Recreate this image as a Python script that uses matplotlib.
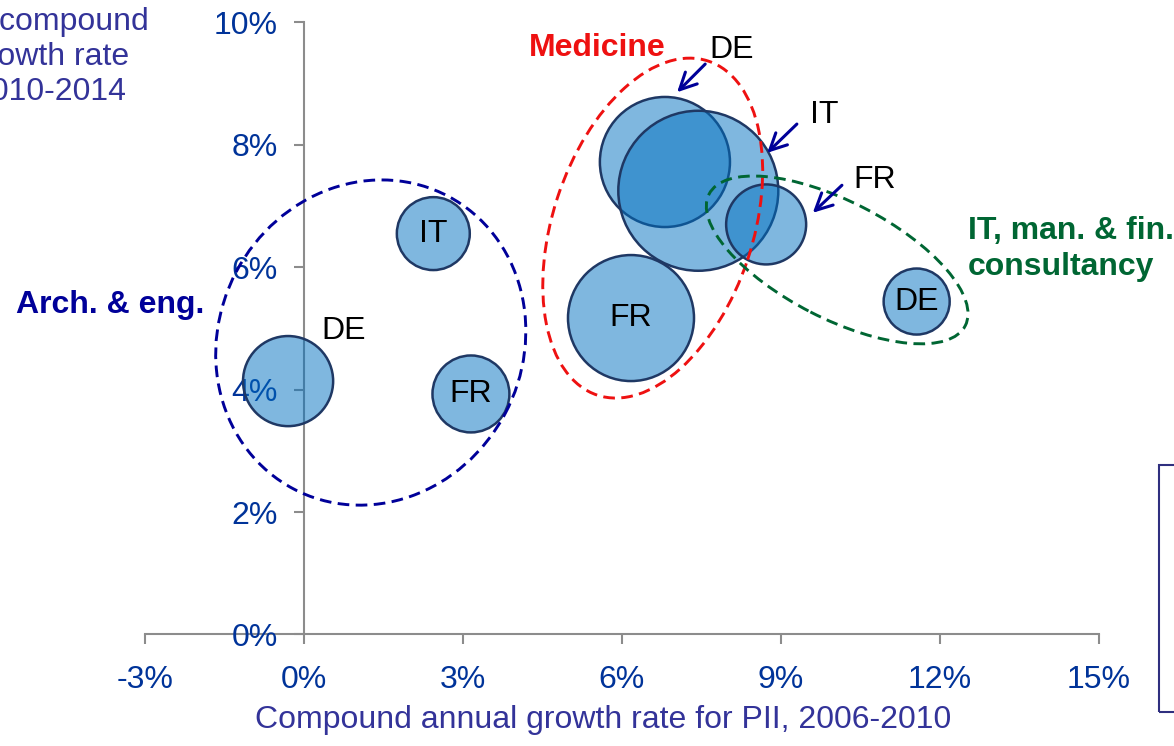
import matplotlib
matplotlib.use("Agg")
import matplotlib.pyplot as plt
from matplotlib import transforms
from matplotlib.colors import to_rgba
from matplotlib.patches import Ellipse, Rectangle

plt.rcParams["font.family"] = ["Liberation Sans", "DejaVu Sans"]

# ----------------------------------------------------------------------------
# Data: growth of PII 2006-2010 (x) vs 2010-2014 (y), bubble size ~ market size
# ----------------------------------------------------------------------------
arch_country = ["DE", "IT", "FR"]
arch_x = [-0.30, 2.44, 3.15]
arch_y = [4.14, 6.55, 3.93]
arch_size = [20.3, 13.3, 14.8]

med_country = ["DE", "IT", "FR"]
med_x = [6.81, 7.44, 6.17]
med_y = [7.72, 7.25, 5.17]
med_size = [42.3, 64.0, 39.7]

cons_country = ["FR", "DE"]
cons_x = [8.72, 11.56]
cons_y = [6.70, 5.44]
cons_size = [16.0, 10.9]

x_ticks = [-3, 0, 3, 6, 9, 12, 15]
y_ticks = [0, 2, 4, 6, 8, 10]

# colours
bubble_face = to_rgba("#0070C0", 0.5)
bubble_edge = "#1F3864"
tick_blue = "#003399"
title_blue = "#333399"
axis_grey = "#8c8c8c"
arrow_blue = "#000099"

FS = 23

fig = plt.figure(figsize=(11.74, 7.46), dpi=100)
ax = fig.add_axes([0.1235, 0.1495, 0.8126, 0.8204])
ax.set_xlim(-3, 15)
ax.set_ylim(0, 10)

for s in ["top", "right"]:
    ax.spines[s].set_visible(False)
ax.spines["left"].set_position(("data", 0))
for s in ["left", "bottom"]:
    ax.spines[s].set_color(axis_grey)
    ax.spines[s].set_linewidth(1.5)
    ax.spines[s].set_zorder(0.5)
ax.set_axisbelow(True)

ax.set_xticks(x_ticks)
ax.set_xticklabels([f"{v}%" for v in x_ticks])
ax.set_yticks(y_ticks)
ax.set_yticklabels([f"{v}%" for v in y_ticks])
ax.tick_params(axis="both", direction="out", length=7, width=1.5,
               color=axis_grey, labelcolor=tick_blue, labelsize=FS)
ax.tick_params(axis="y", pad=12)
ax.tick_params(axis="x", pad=15)

# bubbles: area proportional to size
k = 207.36
for xs, ys, ss in [(arch_x, arch_y, arch_size),
                   (med_x, med_y, med_size),
                   (cons_x, cons_y, cons_size)]:
    ax.scatter(xs, ys, s=[v * k for v in ss], facecolors=[bubble_face],
               edgecolors=bubble_edge, linewidths=1.8, zorder=2)

# country labels inside bubbles
ax.text(arch_x[1], arch_y[1], arch_country[1], ha="center", va="center", fontsize=FS, zorder=4)
ax.text(arch_x[2], arch_y[2], arch_country[2], ha="center", va="center", fontsize=FS, zorder=4)
ax.text(med_x[2], med_y[2], med_country[2], ha="center", va="center", fontsize=FS, zorder=4)
ax.text(cons_x[1], cons_y[1], cons_country[1], ha="center", va="center", fontsize=FS, zorder=4)

# labels outside bubbles
ax.text(0.74, 4.96, arch_country[0], ha="center", va="center", fontsize=FS, zorder=4)
ax.text(8.06, 9.55, med_country[0], ha="center", va="center", fontsize=FS, zorder=4)
ax.text(9.81, 8.49, med_country[1], ha="center", va="center", fontsize=FS, zorder=4)
ax.text(10.77, 7.43, cons_country[0], ha="center", va="center", fontsize=FS, zorder=4)

arrow_kw = dict(arrowstyle="->", color=arrow_blue, lw=2.2, mutation_scale=30,
                shrinkA=0, shrinkB=0)
ax.annotate("", xy=(7.04, 8.86), xytext=(7.57, 9.32), arrowprops=arrow_kw, zorder=4)
ax.annotate("", xy=(8.74, 7.87), xytext=(9.30, 8.34), arrowprops=arrow_kw, zorder=4)
ax.annotate("", xy=(9.60, 6.89), xytext=(10.15, 7.34), arrowprops=arrow_kw, zorder=4)

# dashed group outlines (centre in data, size in inches)
outlines = [
    ((1.26, 4.77), 3.31, 3.04, 62, "#000099"),
    ((6.58, 6.64), 3.52, 2.00, 71.6, "#ee1111"),
    ((10.06, 6.12), 2.88, 1.17, -27.2, "#006633"),
]
for (cx, cy), w, h, ang, col in outlines:
    tr = fig.dpi_scale_trans + transforms.ScaledTranslation(cx, cy, ax.transData)
    ax.add_patch(Ellipse((0, 0), w, h, angle=ang, transform=tr, fill=False,
                         edgecolor=col, lw=2.1, linestyle=(0, (4, 2.2)),
                         zorder=3, clip_on=False))

# group names
ax.text(-5.43, 5.38, "Arch. & eng.", ha="left", va="center", fontsize=FS,
        fontweight="bold", color="#000099")
ax.text(5.53, 9.58, "Medicine", ha="center", va="center", fontsize=FS,
        fontweight="bold", color="#ee1111")
ax.text(12.53, 6.30, "IT, man. & fin.\nconsultancy", ha="left", va="center",
        fontsize=FS, fontweight="bold", color="#006633", linespacing=1.25)

# axis titles
fig.text(0.0422, 0.9236, "PII compound\ngrowth rate\n2010-2014", ha="center",
         va="center", multialignment="center", fontsize=FS, color=title_blue)
fig.text(0.5136, 0.0349, "Compound annual growth rate for PII, 2006-2010",
         ha="center", va="center", fontsize=FS, color=title_blue)

# edge of a (cropped) legend box
fig.patches.append(Rectangle((0.9872, 0.0456), 0.05, 0.3311, transform=fig.transFigure,
                             fill=False, edgecolor="#2f2f7f", lw=1.5))

fig.savefig("out.png", dpi=100)
